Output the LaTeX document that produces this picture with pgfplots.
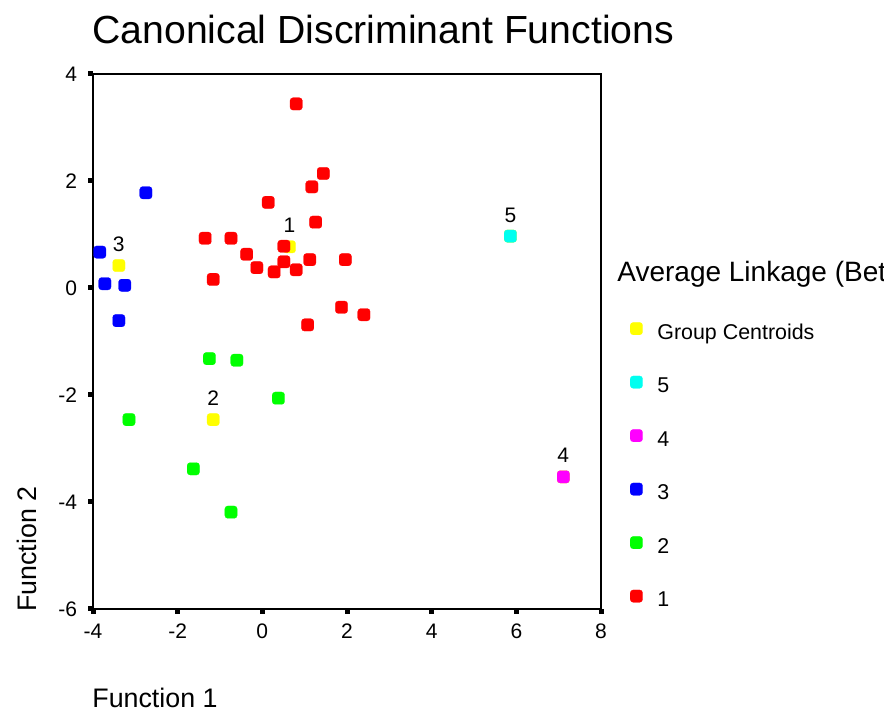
\documentclass[border=0pt]{standalone}
\usepackage{fontspec}
\setmainfont{Liberation Sans}
\usepackage{pgfplots}
\pgfplotsset{compat=1.18}
\definecolor{cRed}{RGB}{255,0,0}
\definecolor{cGreen}{RGB}{0,255,0}
\definecolor{cBlue}{RGB}{0,0,255}
\definecolor{cMag}{RGB}{255,0,255}
\definecolor{cCyan}{RGB}{0,255,240}
\definecolor{cYel}{RGB}{255,255,0}
\pgfdeclareplotmark{rsq}{%
  \pgfpathmoveto{\pgfpoint{-1.6pt}{-3.1pt}}%
  \pgfpathlineto{\pgfpoint{1.6pt}{-3.1pt}}%
  \pgfpathcurveto{\pgfpoint{2.43pt}{-3.1pt}}{\pgfpoint{3.1pt}{-2.43pt}}{\pgfpoint{3.1pt}{-1.6pt}}%
  \pgfpathlineto{\pgfpoint{3.1pt}{1.6pt}}%
  \pgfpathcurveto{\pgfpoint{3.1pt}{2.43pt}}{\pgfpoint{2.43pt}{3.1pt}}{\pgfpoint{1.6pt}{3.1pt}}%
  \pgfpathlineto{\pgfpoint{-1.6pt}{3.1pt}}%
  \pgfpathcurveto{\pgfpoint{-2.43pt}{3.1pt}}{\pgfpoint{-3.1pt}{2.43pt}}{\pgfpoint{-3.1pt}{1.6pt}}%
  \pgfpathlineto{\pgfpoint{-3.1pt}{-1.6pt}}%
  \pgfpathcurveto{\pgfpoint{-3.1pt}{-2.43pt}}{\pgfpoint{-2.43pt}{-3.1pt}}{\pgfpoint{-1.6pt}{-3.1pt}}%
  \pgfpathclose
  \pgfusepathqfillstroke}
\pgfplotsset{
  grp/.style={only marks, mark=rsq,
    mark options={fill=#1, draw=#1, line width=0.1pt}},
}
\begin{document}
\begin{tikzpicture}
\useasboundingbox (0pt,0pt) rectangle (442pt,355.5pt);
\node[anchor=base west, font=\fontsize{19.6}{22}\selectfont, inner sep=0pt] at (46pt,333.5pt) {Canonical Discriminant Functions};
\node[anchor=base west, font=\fontsize{13.4}{15}\selectfont, inner sep=0pt] at (46pt,1.5pt) {Function 1};
\node[anchor=base west, rotate=90, font=\fontsize{13.4}{15}\selectfont, inner sep=0pt] at (18pt,49.5pt) {Function 2};
\node[anchor=base west, font=\fontsize{14}{16}\selectfont, inner sep=0pt] at (308.5pt,214.5pt) {Average Linkage (Bet};
\begin{axis}[
  at={(46.5pt,51pt)}, anchor=south west,
  scale only axis, width=254pt, height=267.5pt,
  xmin=-4, xmax=8, ymin=-6, ymax=4,
  xtick={-4,-2,0,2,4,6,8}, ytick={-6,-4,-2,0,2,4},
  xtick pos=bottom, ytick pos=left,
  axis line style={line width=1pt},
  tick align=outside, major tick length=2.5pt,
  tick style={line width=2.5pt, black},
  ticklabel style={font=\fontsize{10.5}{12}\selectfont},
  /pgf/number format/assume math mode=true,
  xticklabel style={yshift=-1.5pt},
  yticklabel style={xshift=-2pt},
  clip=false,
  legend cell align=left,
  legend image code/.code={\draw[#1] plot coordinates {(0pt,2.5pt)};},
  legend style={at={(1.0567,0.5364)}, anchor=north west, draw=none, fill=none,
    inner sep=0pt, row sep=16.05pt,
    font=\fontsize{10.7}{12}\selectfont,
    nodes={inner sep=0pt, text height=8pt, text depth=2.2pt},
    /tikz/every odd column/.append style={column sep=7.4pt}},
]
% Group centroids
\addplot[grp=cYel, nodes near coords, point meta=explicit symbolic,
  nodes near coords style={anchor=base, yshift=7pt, text=black, font=\fontsize{10.5}{12}\selectfont}]
  table[meta=lab] {
x y lab
0.64 0.77 1
-1.16 -2.46 2
-3.39 0.42 3
7.11 -3.53 4
5.86 0.97 5
};
\addlegendentry{Group Centroids}
% group 5
\addplot[grp=cCyan] coordinates {(5.86,0.97)};
\addlegendentry{5}
% group 4
\addplot[grp=cMag] coordinates {(7.11,-3.53)};
\addlegendentry{4}
% group 3
\addplot[grp=cBlue] coordinates {
(-2.75,1.78) (-3.84,0.67) (-3.72,0.08) (-3.25,0.05) (-3.39,-0.61)};
\addlegendentry{3}
% group 2
\addplot[grp=cGreen] coordinates {
(-1.25,-1.32) (-0.60,-1.35) (0.38,-2.06) (-1.63,-3.38) (-0.74,-4.19) (-3.15,-2.46)};
\addlegendentry{2}
% group 1
\addplot[grp=cRed] coordinates {
(0.80,3.44) (1.44,2.14) (1.17,1.89) (0.14,1.60) (1.26,1.23)
(-1.35,0.93) (-0.74,0.93) (0.51,0.78) (-0.37,0.63) (-0.13,0.38)
(0.28,0.30) (0.51,0.49) (0.80,0.34) (1.12,0.53) (1.96,0.53)
(-1.16,0.16) (1.87,-0.36) (1.07,-0.69) (2.40,-0.50)};
\addlegendentry{1}
\end{axis}
\end{tikzpicture}
\end{document}
